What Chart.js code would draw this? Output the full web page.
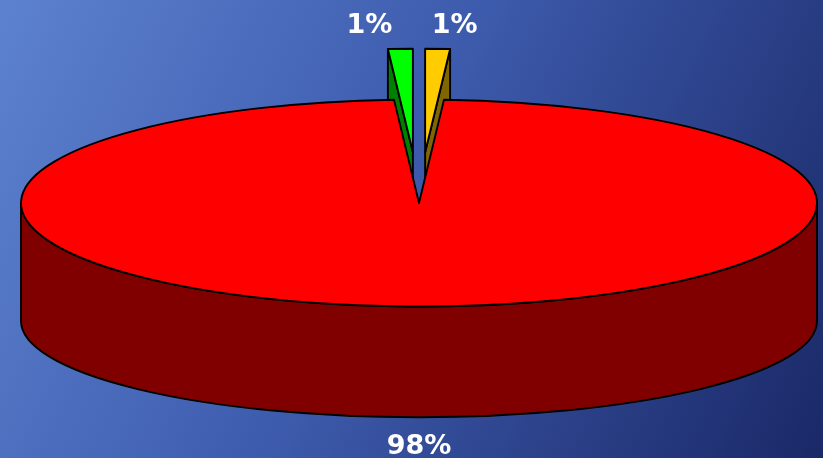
<!DOCTYPE html>
<html>
<head>
<meta charset="utf-8">
<script src="https://cdn.jsdelivr.net/npm/chart.js@4.4.1/dist/chart.umd.min.js"></script>
<style>
  html, body { margin: 0; padding: 0; }
  body {
    width: 823px; height: 458px; overflow: hidden;
    background: linear-gradient(116deg, #5d82cf 0%, #3e5cae 45%, #1a2867 100%);
  }
  #wrap { position: relative; width: 823px; height: 458px; }
</style>
</head>
<body>
<div id="wrap"><canvas id="pie"></canvas></div>
<script>
// ---- data ----
const categories = ['Part B', 'Part A', 'Part C'];
const shareValues = [1, 98, 1];

// ---- style ----
const topColors  = ['#ffcc00', '#ff0000', '#00ff00'];
const sideColors = ['#806600', '#800000', '#008000'];
const explodeBy  = [98, 0, 98];          // pull-out distance in pie space (px)
const labelNudge = [17, 0, -31];          // horizontal label shift (px)
const PIE_RADIUS = 200;
// tilted-disc projection of the flat pie
const VIEW = { cx: 419, cy: 203, rx: 398, ry: 103.5, depth: 118, bottomScale: 0.93 };
const EDGE = { color: '#000000', width: 1.9 };

function arcGeometry(arc, i) {
  const p = arc.getProps(['x', 'y', 'startAngle', 'endAngle', 'outerRadius'], true);
  const off = explodeBy[i] || 0;
  const mid = (p.startAngle + p.endAngle) / 2;
  const sx = VIEW.rx / p.outerRadius;
  const sy = VIEW.ry / p.outerRadius;
  const ox = Math.cos(mid) * off, oy = Math.sin(mid) * off;
  const proj = (ang, r, bottom) => {
    const s = bottom ? sy * VIEW.bottomScale : sy;
    return {
      x: VIEW.cx + (ox + Math.cos(ang) * r) * sx,
      y: VIEW.cy + (bottom ? VIEW.depth : 0) + (oy + Math.sin(ang) * r) * s
    };
  };
  return { p, mid, sx, sy, ox, oy, proj, R: p.outerRadius };
}

// intersection of [s,e] with the front half (0..PI) of the disc
function frontRanges(s, e) {
  const out = [];
  for (let k = -2; k <= 2; k++) {
    const a = Math.max(s, k * 2 * Math.PI), b = Math.min(e, k * 2 * Math.PI + Math.PI);
    if (b > a + 1e-6) out.push([a, b]);
  }
  return out;
}

const disc3d = {
  id: 'disc3d',
  // side walls and cut faces, back to front
  beforeDatasetsDraw(chart) {
    const ctx = chart.ctx;
    const meta = chart.getDatasetMeta(0);
    const order = meta.data.map((arc, i) => ({ i, g: arcGeometry(arc, i) }))
      .sort((a, b) => a.g.oy * a.g.sy - b.g.oy * b.g.sy);
    ctx.save();
    ctx.lineJoin = 'round';
    ctx.strokeStyle = EDGE.color;
    ctx.lineWidth = EDGE.width;
    for (const { i, g } of order) {
      const { p, proj, R } = g;
      ctx.fillStyle = sideColors[i];
      const faces = [];
      if (Math.cos(p.startAngle) < -1e-6) faces.push(p.startAngle);
      if (Math.cos(p.endAngle) > 1e-6) faces.push(p.endAngle);
      for (const ang of faces) {
        const a = proj(ang, 0, false), b = proj(ang, R, false);
        const c = proj(ang, R, true), d = proj(ang, 0, true);
        ctx.beginPath();
        ctx.moveTo(a.x, a.y); ctx.lineTo(b.x, b.y); ctx.lineTo(c.x, c.y); ctx.lineTo(d.x, d.y);
        ctx.closePath();
        ctx.fill(); ctx.stroke();
      }
      const ex = VIEW.cx + g.ox * g.sx;
      for (const [a, b] of frontRanges(p.startAngle, p.endAngle)) {
        ctx.beginPath();
        ctx.ellipse(ex, VIEW.cy + g.oy * g.sy, VIEW.rx, VIEW.ry, 0, a, b, false);
        ctx.ellipse(ex, VIEW.cy + VIEW.depth + g.oy * g.sy * VIEW.bottomScale,
                    VIEW.rx, VIEW.ry * VIEW.bottomScale, 0, b, a, true);
        ctx.closePath();
        ctx.fill(); ctx.stroke();
      }
    }
    ctx.restore();
  },
  // the library's own arc elements, drawn as tilted top faces
  beforeDatasetDraw(chart) {
    const ctx = chart.ctx;
    chart.getDatasetMeta(0).data.forEach((arc, i) => {
      const g = arcGeometry(arc, i);
      ctx.save();
      ctx.translate(VIEW.cx, VIEW.cy);
      ctx.scale(g.sx, g.sy);
      ctx.translate(g.ox - g.p.x, g.oy - g.p.y);
      arc.draw(ctx);
      ctx.restore();
    });
    return false;
  },
  afterDatasetsDraw(chart) {
    const ctx = chart.ctx;
    const meta = chart.getDatasetMeta(0);
    const total = shareValues.reduce((s, v) => s + v, 0);
    ctx.save();
    ctx.lineJoin = 'round';
    ctx.strokeStyle = EDGE.color;
    ctx.lineWidth = EDGE.width;
    meta.data.forEach((arc, i) => {
      const g = arcGeometry(arc, i);
      const tip = g.proj(0, 0, false), st = g.proj(g.p.startAngle, g.R, false);
      ctx.beginPath();
      ctx.moveTo(tip.x, tip.y);
      ctx.lineTo(st.x, st.y);
      ctx.ellipse(tip.x, tip.y, VIEW.rx, VIEW.ry, 0, g.p.startAngle, g.p.endAngle, false);
      ctx.closePath();
      ctx.stroke();
    });
    // percentage labels
    ctx.fillStyle = '#ffffff';
    ctx.font = 'bold 27px "DejaVu Sans", Verdana, sans-serif';
    ctx.textAlign = 'center';
    ctx.textBaseline = 'middle';
    meta.data.forEach((arc, i) => {
      const g = arcGeometry(arc, i);
      const text = Math.round(shareValues[i] / total * 100) + '%';
      let x, y;
      if (Math.sin(g.mid) < 0) {
        const pt = g.proj(g.mid, g.R, false);
        x = pt.x; y = pt.y - 23;
      } else {
        const pt = g.proj(g.mid, g.R, true);
        x = pt.x; y = pt.y + 30;
      }
      ctx.fillText(text, x + labelNudge[i], y);
    });
    ctx.restore();
  }
};

new Chart(document.getElementById('pie'), {
  type: 'pie',
  data: {
    labels: categories,
    datasets: [{
      data: shareValues,
      backgroundColor: topColors,
      borderWidth: 0,
      clip: false
    }]
  },
  options: {
    responsive: true,
    maintainAspectRatio: false,
    animation: false,
    events: [],
    radius: PIE_RADIUS,
    layout: { padding: 0 },
    plugins: { legend: { display: false }, tooltip: { enabled: false } }
  },
  plugins: [disc3d]
});
</script>
</body>
</html>
